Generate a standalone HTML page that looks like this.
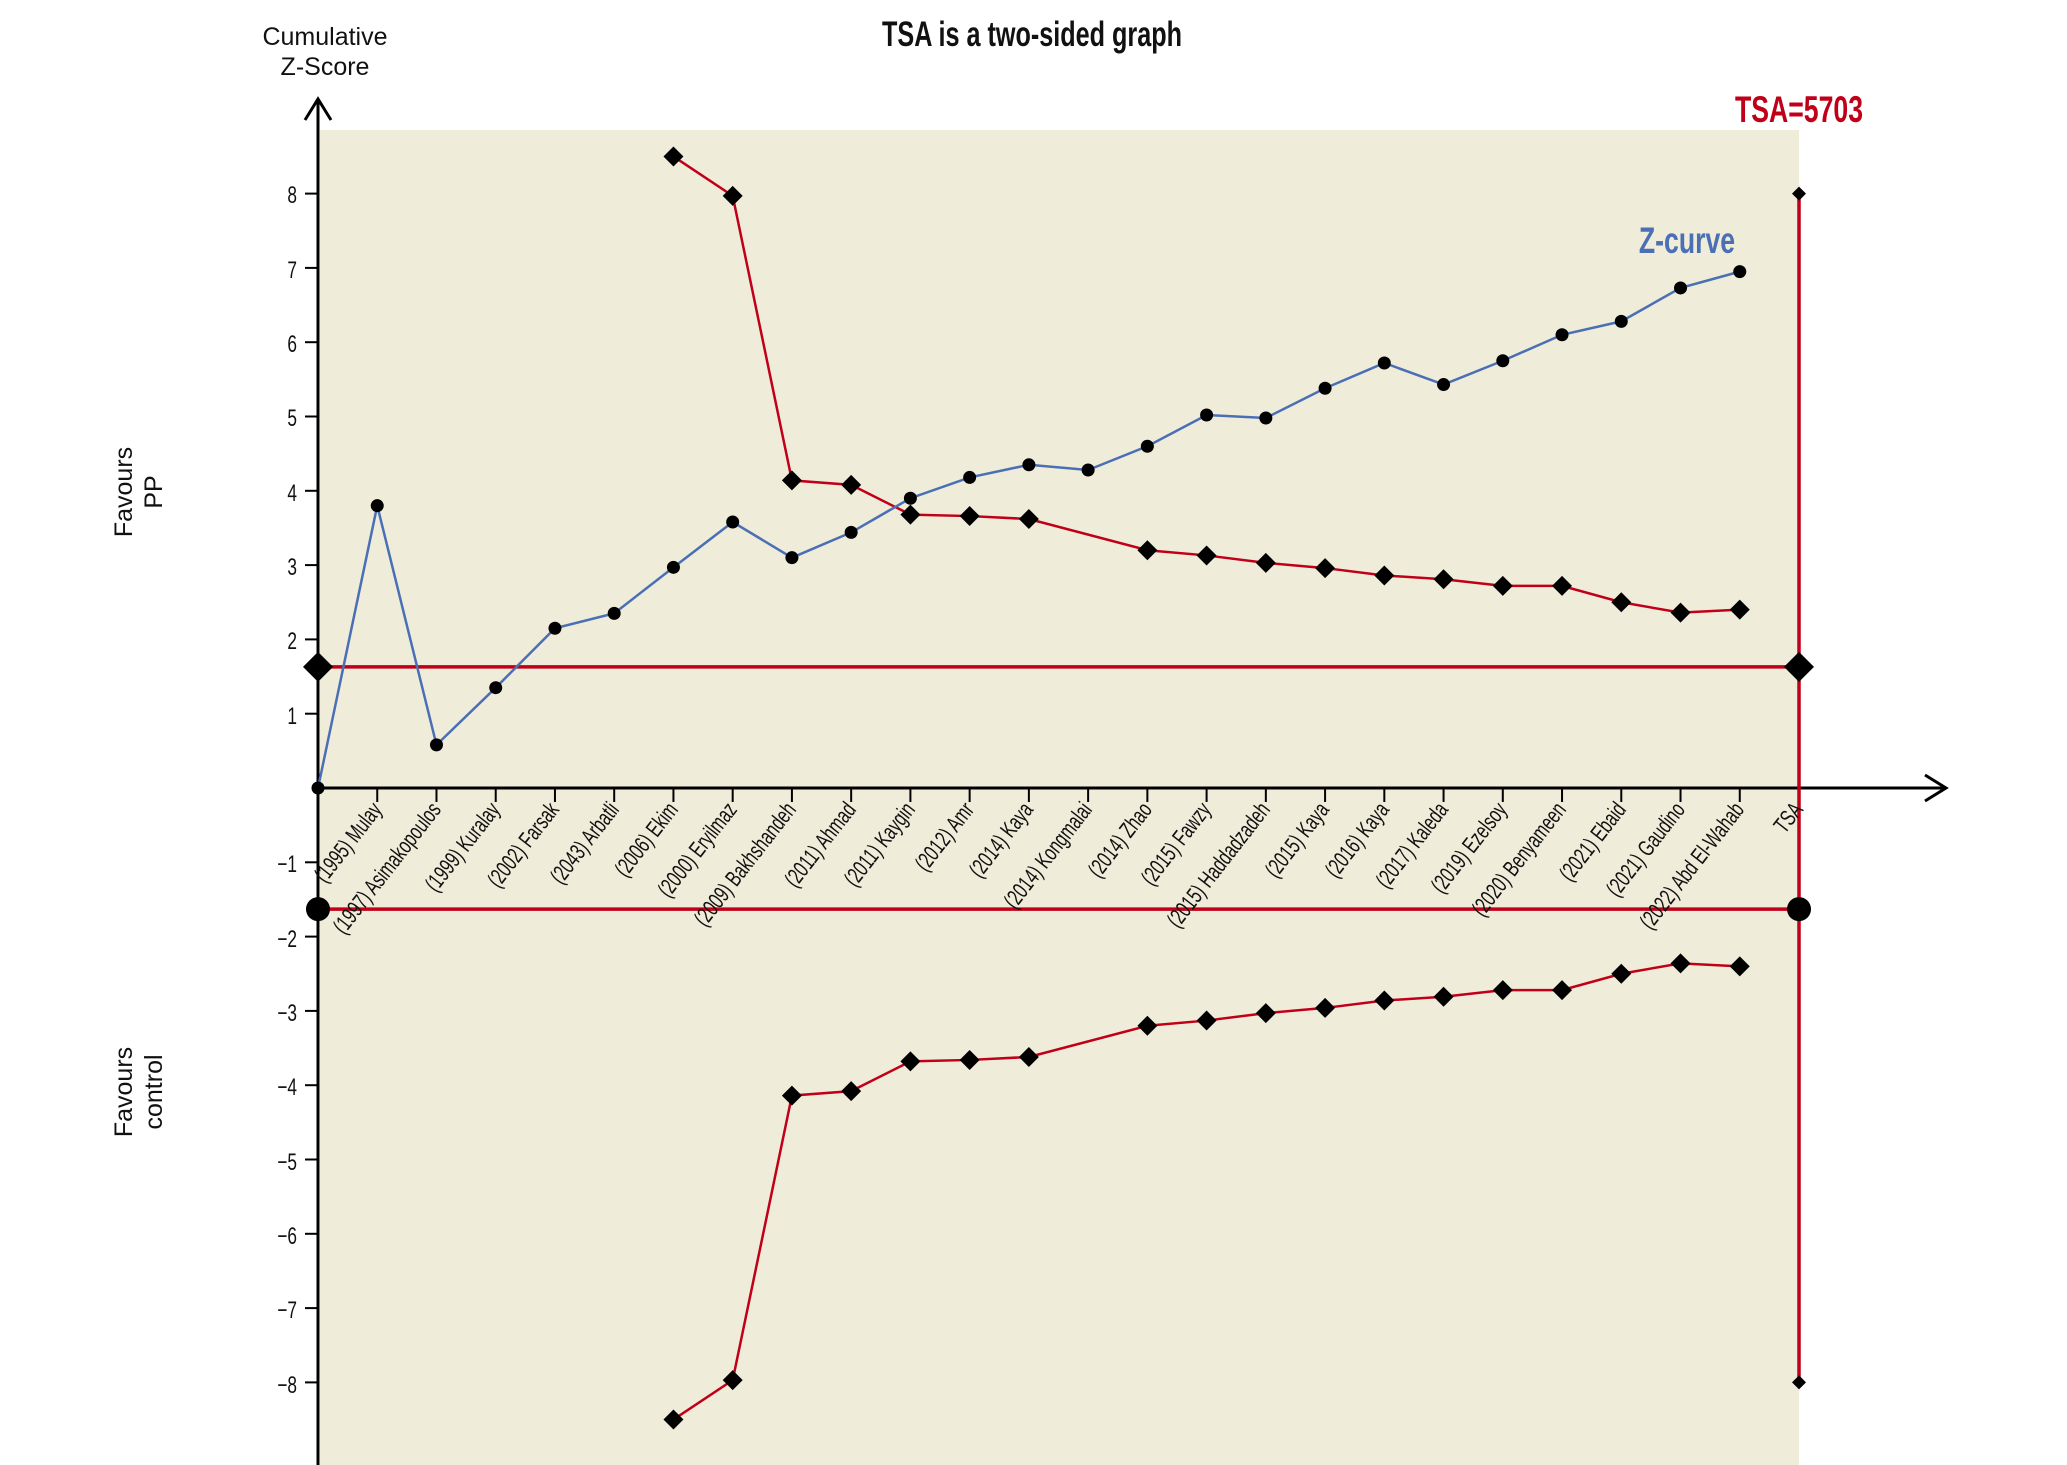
<!DOCTYPE html>
<html><head><meta charset="utf-8"><style>
html,body{margin:0;padding:0;background:#fff}
svg{display:block}
text{font-family:"Liberation Sans",sans-serif}
</style></head><body>
<svg id="s" width="2067" height="1465" viewBox="0 0 2067 1465" xmlns="http://www.w3.org/2000/svg">
<rect x="320" y="130" width="1479" height="1335" fill="#f0ecda"/>
<g id="geo"></g>
<text transform="translate(1032,46) scale(0.72,1)" text-anchor="middle" font-size="35" font-weight="bold" fill="#111">TSA is a two-sided graph</text>
<text x="325" y="45" text-anchor="middle" font-size="25" fill="#111">Cumulative</text>
<text x="325" y="75" text-anchor="middle" font-size="25" fill="#111">Z-Score</text>
<text transform="translate(1799,122) scale(0.72,1)" text-anchor="middle" font-size="37" font-weight="bold" fill="#c00018">TSA=5703</text>
<text transform="translate(1687,253) scale(0.72,1)" text-anchor="middle" font-size="37" font-weight="bold" fill="#4a6fb5">Z-curve</text>
<text transform="translate(132,492) rotate(-90)" text-anchor="middle" font-size="25" fill="#111">Favours</text>
<text transform="translate(162,492) rotate(-90)" text-anchor="middle" font-size="25" fill="#111">PP</text>
<text transform="translate(132,1092) rotate(-90)" text-anchor="middle" font-size="25" fill="#111">Favours</text>
<text transform="translate(162,1092) rotate(-90)" text-anchor="middle" font-size="25" fill="#111">control</text>
<g font-size="24" fill="#111" text-anchor="end">
<text transform="translate(297,203) scale(0.72,1)">8</text>
<text transform="translate(297,278) scale(0.72,1)">7</text>
<text transform="translate(297,352) scale(0.72,1)">6</text>
<text transform="translate(297,426) scale(0.72,1)">5</text>
<text transform="translate(297,501) scale(0.72,1)">4</text>
<text transform="translate(297,575) scale(0.72,1)">3</text>
<text transform="translate(297,649) scale(0.72,1)">2</text>
<text transform="translate(297,724) scale(0.72,1)">1</text>
<text transform="translate(297,872) scale(0.72,1)">−1</text>
<text transform="translate(297,947) scale(0.72,1)">−2</text>
<text transform="translate(297,1021) scale(0.72,1)">−3</text>
<text transform="translate(297,1095) scale(0.72,1)">−4</text>
<text transform="translate(297,1170) scale(0.72,1)">−5</text>
<text transform="translate(297,1244) scale(0.72,1)">−6</text>
<text transform="translate(297,1318) scale(0.72,1)">−7</text>
<text transform="translate(297,1393) scale(0.72,1)">−8</text>
</g>
<g font-size="23" fill="#111" text-anchor="end">
<text transform="translate(383,810) rotate(-52) scale(0.7,1)">(1995) Mulay</text>
<text transform="translate(442,810) rotate(-52) scale(0.7,1)">(1997) Asimakopoulos</text>
<text transform="translate(501,810) rotate(-52) scale(0.7,1)">(1999) Kuralay</text>
<text transform="translate(560,810) rotate(-52) scale(0.7,1)">(2002) Farsak</text>
<text transform="translate(620,810) rotate(-52) scale(0.7,1)">(2043) Arbatli</text>
<text transform="translate(679,810) rotate(-52) scale(0.7,1)">(2006) Ekim</text>
<text transform="translate(738,810) rotate(-52) scale(0.7,1)">(2000) Eryilmaz</text>
<text transform="translate(797,810) rotate(-52) scale(0.7,1)">(2009) Bakhshandeh</text>
<text transform="translate(857,810) rotate(-52) scale(0.7,1)">(2011) Ahmad</text>
<text transform="translate(916,810) rotate(-52) scale(0.7,1)">(2011) Kaygin</text>
<text transform="translate(975,810) rotate(-52) scale(0.7,1)">(2012) Amr</text>
<text transform="translate(1034,810) rotate(-52) scale(0.7,1)">(2014) Kaya</text>
<text transform="translate(1093,810) rotate(-52) scale(0.7,1)">(2014) Kongmalai</text>
<text transform="translate(1153,810) rotate(-52) scale(0.7,1)">(2014) Zhao</text>
<text transform="translate(1212,810) rotate(-52) scale(0.7,1)">(2015) Fawzy</text>
<text transform="translate(1271,810) rotate(-52) scale(0.7,1)">(2015) Haddadzadeh</text>
<text transform="translate(1330,810) rotate(-52) scale(0.7,1)">(2015) Kaya</text>
<text transform="translate(1390,810) rotate(-52) scale(0.7,1)">(2016) Kaya</text>
<text transform="translate(1449,810) rotate(-52) scale(0.7,1)">(2017) Kaleda</text>
<text transform="translate(1508,810) rotate(-52) scale(0.7,1)">(2019) Ezelsoy</text>
<text transform="translate(1567,810) rotate(-52) scale(0.7,1)">(2020) Benyameen</text>
<text transform="translate(1627,810) rotate(-52) scale(0.7,1)">(2021) Ebaid</text>
<text transform="translate(1686,810) rotate(-52) scale(0.7,1)">(2021) Gaudino</text>
<text transform="translate(1745,810) rotate(-52) scale(0.7,1)">(2022) Abd El-Wahab</text>
<text transform="translate(1804,810) rotate(-52) scale(0.7,1)">TSA</text>
</g>
</svg>
<script>
(function(){
var NS="http://www.w3.org/2000/svg",g=document.getElementById("geo");
function el(t,a){var e=document.createElementNS(NS,t);for(var k in a)e.setAttribute(k,a[k]);g.appendChild(e);return e;}
var X=function(i){return 318+59.24*i},Y=function(v){return 788-74.3*v};
var z=[0,3.8,0.58,1.35,2.15,2.35,2.97,3.58,3.1,3.44,3.9,4.18,4.35,4.28,4.6,5.02,4.98,5.38,5.72,5.43,5.75,6.1,6.28,6.73,6.95];
var b=[[6,8.5],[7,7.97],[8,4.14],[9,4.08],[10,3.68],[11,3.66],[12,3.62],[14,3.2],[15,3.13],[16,3.03],[17,2.96],[18,2.86],[19,2.81],[20,2.72],[21,2.72],[22,2.5],[23,2.36],[24,2.4]];
el("line",{x1:318,y1:99,x2:318,y2:1465,stroke:"#000","stroke-width":3});
el("polyline",{points:"305,120 318,99 331,120",fill:"none",stroke:"#000","stroke-width":3});
el("line",{x1:318,y1:788,x2:1946,y2:788,stroke:"#000","stroke-width":3});
el("polyline",{points:"1925,775 1946,788 1925,801",fill:"none",stroke:"#000","stroke-width":3});
for(var v=-8;v<=8;v++){if(v==0)continue;el("line",{x1:305,y1:Y(v),x2:318,y2:Y(v),stroke:"#000","stroke-width":2});}
for(var i=1;i<=25;i++)el("line",{x1:X(i),y1:788,x2:X(i),y2:802,stroke:"#000","stroke-width":2});
el("line",{x1:318,y1:Y(1.63),x2:1799,y2:Y(1.63),stroke:"#c00018","stroke-width":3.5});
el("line",{x1:318,y1:Y(-1.63),x2:1799,y2:Y(-1.63),stroke:"#c00018","stroke-width":3.5});
el("line",{x1:1799,y1:Y(8),x2:1799,y2:Y(-8),stroke:"#c00018","stroke-width":3.5});
var up=b.map(function(p){return X(p[0])+","+Y(p[1])}).join(" ");
var dn=b.map(function(p){return X(p[0])+","+Y(-p[1])}).join(" ");
el("polyline",{points:up,fill:"none",stroke:"#c00018","stroke-width":2.5});
el("polyline",{points:dn,fill:"none",stroke:"#c00018","stroke-width":2.5});
el("polyline",{points:z.map(function(v,i){return X(i)+","+Y(v)}).join(" "),fill:"none",stroke:"#4a6fb5","stroke-width":2.5});
function dia(x,y,r){el("polygon",{points:(x)+","+(y-r)+" "+(x+r)+","+y+" "+x+","+(y+r)+" "+(x-r)+","+y,fill:"#000"});}
b.forEach(function(p){dia(X(p[0]),Y(p[1]),10);dia(X(p[0]),Y(-p[1]),10);});
z.forEach(function(v,i){el("circle",{cx:X(i),cy:Y(v),r:6.5,fill:"#000"});});
dia(318,Y(1.63),15);dia(1799,Y(1.63),15);
el("circle",{cx:318,cy:Y(-1.63),r:12,fill:"#000"});el("circle",{cx:1799,cy:Y(-1.63),r:12,fill:"#000"});
dia(1799,Y(8),7);dia(1799,Y(-8),7);
})();
</script>
</body></html>
